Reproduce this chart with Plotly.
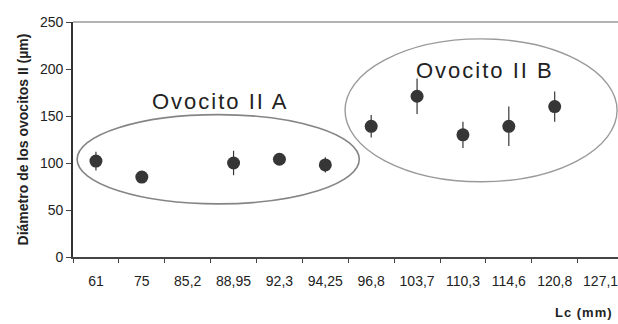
import plotly.graph_objects as go

categories = ["61", "75", "85,2", "88,95", "92,3", "94,25", "96,8", "103,7", "110,3", "114,6", "120,8", "127,1"]
point_cats = ["61", "75", "88,95", "92,3", "94,25", "96,8", "103,7", "110,3", "114,6", "120,8"]
diam_mean = [102, 85, 100, 104, 98, 139, 171, 130, 139, 160]
diam_err = [10, 3, 13, 4, 8, 12, 19, 14, 21, 16]
y_ticks = [0, 50, 100, 150, 200, 250]

font_family = "Liberation Sans, Arial, sans-serif"

fig = go.Figure()
fig.add_trace(go.Scatter(
    x=point_cats, y=diam_mean, mode="markers",
    marker=dict(size=13, color="#363636"),
    error_y=dict(type="data", array=diam_err, visible=True, color="#363636",
                 thickness=1.2, width=0),
    showlegend=False, cliponaxis=False,
))

# group ellipses
fig.add_shape(type="circle", xref="x", yref="y", x0=-0.41, x1=5.74, y0=56.5, y1=151.5,
              line=dict(color="#858585", width=1.6))
fig.add_shape(type="circle", xref="x", yref="y", x0=5.43, x1=11.36, y0=80, y1=232,
              line=dict(color="#9a9a9a", width=1.4))
# top frame line
fig.add_shape(type="line", xref="paper", yref="paper", x0=0, x1=1, y0=1, y1=1,
              line=dict(color="#9a9a9a", width=1.6))

fig.add_annotation(x=2.71, y=165, xref="x", yref="y",
                   text='<span style="letter-spacing:2px">Ovocito II A</span>', showarrow=False,
                   font=dict(family=font_family, size=22, color="#222222"))
fig.add_annotation(x=8.48, y=198, xref="x", yref="y",
                   text='<span style="letter-spacing:2px">Ovocito II B</span>', showarrow=False,
                   font=dict(family=font_family, size=22, color="#222222"))
fig.add_annotation(x=0.995, y=-0.238, xref="paper", yref="paper", xanchor="right", yanchor="middle",
                   text='<b><span style="letter-spacing:1px">Lc (mm)</span></b>', showarrow=False,
                   font=dict(family=font_family, size=13, color="#222222"))

fig.update_layout(
    width=618, height=324,
    margin=dict(l=73, r=0, t=22, b=67),
    paper_bgcolor="white", plot_bgcolor="white",
    font=dict(family=font_family, color="#222222"),
)
fig.update_xaxes(
    type="category", categoryorder="array", categoryarray=categories,
    range=[-0.5, 11.38], tickson="boundaries", ticks="outside", ticklen=4,
    tickcolor="#444444", tickwidth=1, showline=True, linecolor="#444444", linewidth=1.6,
    showgrid=False, zeroline=False, tickfont=dict(size=14, color="#222222"),
    ticklabelstandoff=10,
)
fig.update_yaxes(
    range=[0, 250], tickvals=y_ticks, ticks="outside", ticklen=5, tickcolor="#444444",
    showline=True, linecolor="#333333", linewidth=1.6, showgrid=False, zeroline=False,
    tickfont=dict(size=14, color="#222222"),
    title=dict(text="<b>Diámetro de los ovocitos II (µm)</b>", font=dict(size=14, color="#222222"), standoff=8),
)
fig.write_html("out.html", config={"displayModeBar": False},
               post_script="document.body.style.margin='0';document.body.style.overflow='hidden';")
